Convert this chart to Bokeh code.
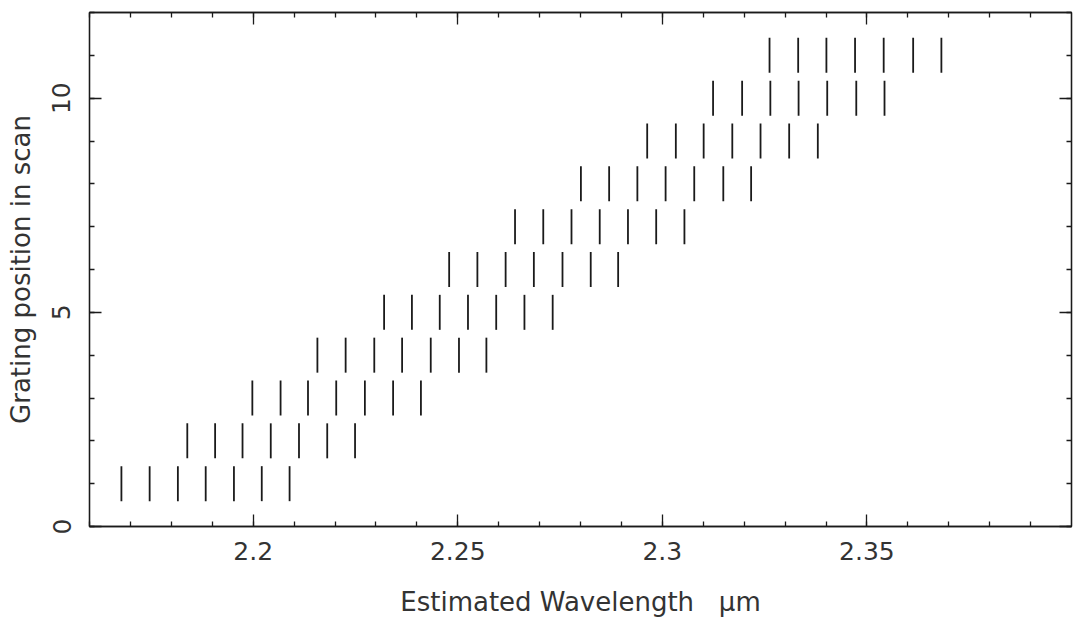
from bokeh.plotting import figure
from bokeh.models import (LinearAxis, SingleIntervalTicker, Range1d,
                          CustomJSTickFormatter, ColumnDataSource)
from bokeh.embed import file_html
from bokeh.resources import INLINE
import math

# Estimated wavelength (micron) of each detector element at each grating position
row_1 = [2.1678, 2.1747, 2.1816, 2.1884, 2.1953, 2.2021, 2.2089]
row_2 = [2.1839, 2.1907, 2.1974, 2.2043, 2.2112, 2.2181, 2.2249]
row_3 = [2.1998, 2.2067, 2.2134, 2.2203, 2.2273, 2.2342, 2.2410]
row_4 = [2.2157, 2.2226, 2.2296, 2.2364, 2.2434, 2.2503, 2.2570]
row_5 = [2.2320, 2.2388, 2.2456, 2.2525, 2.2594, 2.2663, 2.2732]
row_6 = [2.2479, 2.2548, 2.2617, 2.2686, 2.2756, 2.2825, 2.2892]
row_7 = [2.2640, 2.2709, 2.2778, 2.2847, 2.2916, 2.2985, 2.3054]
row_8 = [2.2801, 2.2870, 2.2939, 2.3008, 2.3078, 2.3149, 2.3217]
row_9 = [2.2963, 2.3033, 2.3101, 2.3171, 2.3240, 2.3310, 2.3380]
row_10 = [2.3124, 2.3195, 2.3264, 2.3333, 2.3403, 2.3474, 2.3543]
row_11 = [2.3262, 2.3332, 2.3401, 2.3471, 2.3541, 2.3613, 2.3682]

grating_positions = [1, 2, 3, 4, 5, 6, 7, 8, 9, 10, 11]
rows = [row_1, row_2, row_3, row_4, row_5, row_6, row_7, row_8, row_9, row_10, row_11]

xs, ys = [], []
for pos, row in zip(grating_positions, rows):
    for w in row:
        xs.append(w)
        ys.append(pos)
src = ColumnDataSource(dict(x=xs, y=ys))

FONT = "DejaVu Sans"
FS = "25px"
INK = "#1a1a1a"
TXT = "#333333"

p = figure(width=1073, height=619, output_backend="svg", toolbar_location=None,
           x_range=Range1d(2.16, 2.40), y_range=Range1d(0, 12),
           min_border_left=89, min_border_right=2, min_border_top=12,
           min_border_bottom=88,
           x_axis_label="Estimated Wavelength \u00a0\u00a0μm",
           y_axis_label="Grating position in scan")
p.grid.visible = False
p.outline_line_color = INK
p.outline_line_width = 1.3
p.background_fill_color = "white"
p.border_fill_color = "white"

p.scatter("x", "y", source=src, marker="dash", angle=math.pi / 2, size=35,
          line_color=INK, line_width=1.8)

fmt = CustomJSTickFormatter(code="""
var s = tick.toFixed(2);
if (s.indexOf('.') >= 0) { s = s.replace(/0+$/, '').replace(/\\.$/, ''); }
return s;
""")
blank = CustomJSTickFormatter(code="return '';")

def style(ax):
    ax.axis_line_color = INK
    ax.axis_line_width = 1.3
    ax.major_tick_line_color = INK
    ax.minor_tick_line_color = INK
    ax.major_tick_line_width = 1.3
    ax.minor_tick_line_width = 1.3
    ax.major_tick_in = 12
    ax.major_tick_out = 0
    ax.minor_tick_in = 5
    ax.minor_tick_out = 0
    ax.major_label_text_font = FONT
    ax.major_label_text_font_size = FS
    ax.major_label_text_color = TXT
    ax.axis_label_text_font = FONT
    ax.axis_label_text_font_size = "26px"
    ax.axis_label_text_font_style = "normal"
    ax.axis_label_text_color = TXT

xa = p.xaxis[0]
xa.ticker = SingleIntervalTicker(interval=0.05, num_minor_ticks=5)
xa.formatter = fmt
style(xa)
xa.major_label_standoff = 15
xa.axis_label_standoff = 24

ya = p.yaxis[0]
ya.ticker = SingleIntervalTicker(interval=5, num_minor_ticks=5)
style(ya)
ya.major_label_orientation = "vertical"
ya.major_label_standoff = 19
ya.axis_label_standoff = 14

top = LinearAxis(ticker=SingleIntervalTicker(interval=0.05, num_minor_ticks=5),
                 formatter=blank)
style(top)
top.major_label_standoff = 0
p.add_layout(top, "above")
right = LinearAxis(ticker=SingleIntervalTicker(interval=5, num_minor_ticks=5),
                   formatter=blank)
style(right)
right.major_label_standoff = 0
p.add_layout(right, "right")

open("out.html", "w").write(file_html(p, INLINE))
